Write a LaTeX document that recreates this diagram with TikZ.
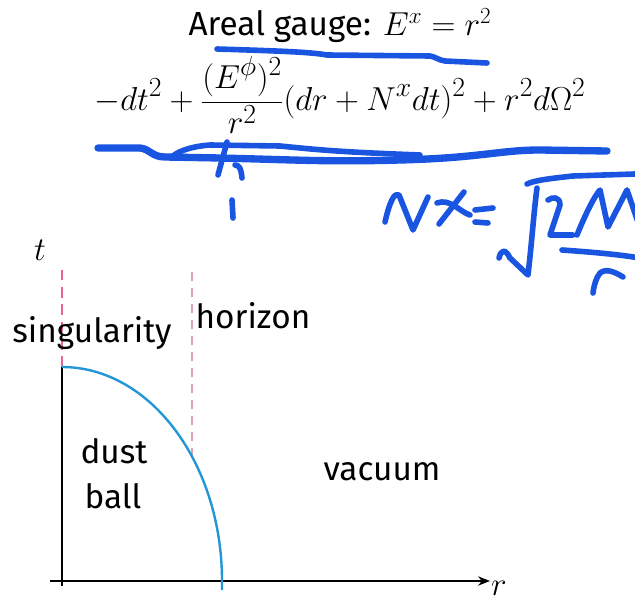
\documentclass[tikz,border=0pt]{standalone}
\usepackage{fontspec}
\setmainfont{Fira Sans}
\usetikzlibrary{arrows.meta}
\definecolor{pen}{RGB}{25,85,225}
\definecolor{curve}{RGB}{35,150,215}
\definecolor{sing}{RGB}{230,100,150}
\definecolor{hor}{RGB}{225,160,175}
\tikzset{
  pen/.style={draw=pen, line width=4.2pt, line cap=round, line join=round},
  lbl/.style={inner sep=0pt, font=\fontsize{25}{30}\selectfont},
  mathlbl/.style={inner sep=0pt, font=\fontsize{26.5}{31}\selectfont},
  axis/.style={draw=black, line width=0.8pt},
}
\begin{document}
\begin{tikzpicture}[x=0.75pt,y=-0.75pt]
\useasboundingbox (0,0) rectangle (635,602);
% top texts
\node[lbl] (gauge) at (340,26) {Areal gauge: $E^x = r^2$};
\node[inner sep=0pt, font=\fontsize{28.4}{33}\selectfont] (metric) at (340,95)
  {$\displaystyle -dt^2+\frac{(E^\phi)^2}{r^2}(dr+N^x dt)^2+r^2d\Omega^2$};
% handwritten annotations
\draw[pen] (217,49) .. controls (280,51) and (310,52) .. (327,55) -- (430,56) .. controls (436,57) and (438,60) .. (445,61) -- (487,63);
\draw[pen, line width=5.5pt] (98,148) -- (140,148) .. controls (150,149) and (152,157) .. (165,157) -- (220,158) .. controls (300,160) and (330,162) .. (400,160) .. controls (480,158) and (500,150) .. (540,150) -- (607,151);
\draw[pen] (173,156) .. controls (180,150) and (195,146) .. (210,145) -- (280,146) .. controls (320,150) and (340,152) .. (420,155);
\draw[pen] (227,142) -- (218,175);
\draw[pen] (235,165) .. controls (239,165) and (241,168) .. (242,178);
\draw[pen] (232,200) -- (233,218);
% N^x = sqrt(2M/r)
\draw[pen] (385,222) .. controls (390,200) and (395,192) .. (399,195) -- (413,230) -- (428,197);
\draw[pen] (439,224) -- (464,192);
\draw[pen] (437,203) .. controls (450,198) and (460,212) .. (470,215);
\draw[pen] (475,210) -- (493,208);
\draw[pen] (475,222) -- (488,223);
\draw[pen] (499,258) .. controls (501,250) and (505,248) .. (510,258) -- (528,275) .. controls (532,240) and (534,210) .. (537,188);
\draw[pen] (527,184) .. controls (535,180) and (555,178) .. (573,176) -- (635,174);
\draw[pen] (548,200) .. controls (552,197) and (560,196) .. (560,205) -- (550,235) -- (573,235);
\draw[pen] (577,235) .. controls (585,215) and (595,195) .. (600,190) -- (608,227) -- (627,190) -- (640,228);
\draw[pen] (562,250) .. controls (590,252) and (615,254) .. (640,258);
\draw[pen] (593,293) .. controls (594,285) and (596,278) .. (600,273) .. controls (606,268) and (615,272) .. (623,277);
% axes
\coordinate (O) at (62,581);
\coordinate (tb) at (62,586);
\coordinate (rt) at (62,367);
\coordinate (xl) at (50,581);
\coordinate (xr) at (490,581);
\draw[axis] (tb) -- (rt);
\draw[axis, -{Stealth[length=9pt,width=7pt]}] (xl) -- (xr);
\node[mathlbl] (r) at (499,588) {$r$};
\node[mathlbl] (t) at (40,250) {$t$};
% singularity and horizon
\coordinate (s1) at (62,265);
\draw[sing, line width=1.4pt, dash pattern=on 8pt off 5pt] (rt) -- (s1);
\coordinate (h1) at (192,272);
\coordinate (h2) at (192,458);
\draw[hor, line width=1.1pt, dash pattern=on 7pt off 5pt] (h1) -- (h2);
% dust ball boundary
\coordinate (cb) at (222,590);
\draw[curve, line width=1.8pt] (rt) .. controls (150,367) and (222,463) .. (222,581) -- (cb);
% labels
\node[lbl] (singularity) at (92,333) {singularity};
\node[lbl] (horizon) at (253,316) {horizon};
\node[lbl] (dust) at (114,451) {dust};
\node[lbl] (ball) at (113,496) {ball};
\node[lbl] (vacuum) at (382,472) {vacuum};
\end{tikzpicture}
\end{document}
